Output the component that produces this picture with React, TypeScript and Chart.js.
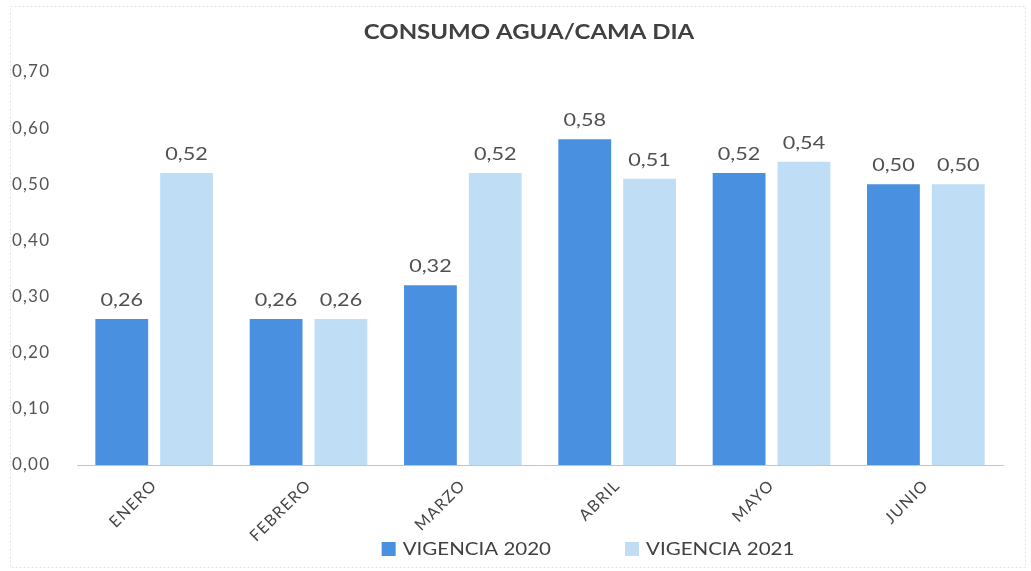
import { useEffect, useRef } from 'react';
import { Chart, registerables } from 'chart.js';

Chart.register(...registerables);

const titleText = 'CONSUMO AGUA/CAMA DIA';
const categories = ['ENERO', 'FEBRERO', 'MARZO', 'ABRIL', 'MAYO', 'JUNIO'];
const seriesNames = ['VIGENCIA 2020', 'VIGENCIA 2021'];
const vigencia2020 = [0.26, 0.26, 0.32, 0.58, 0.52, 0.5];
const vigencia2021 = [0.52, 0.26, 0.52, 0.51, 0.54, 0.5];
const seriesColors = ['#4a90e1', '#bfdef5'];
const yMin = 0;
const yMax = 0.7;
const yStep = 0.1;

const FONT = 'Lato, "Open Sans", sans-serif';
const STRETCH = 1.2;
const fmt = (v: number) => v.toFixed(2).replace('.', ',');

function drawStretched(ctx: any, text: string, x: number, y: number) {
  ctx.save();
  ctx.translate(x, y);
  ctx.scale(STRETCH, 1);
  ctx.fillText(text, 0, 0);
  ctx.restore();
}

const decorPlugin = {
  id: 'decor',
  beforeDraw(chart: any) {
    const { ctx, width, height } = chart;
    ctx.save();
    ctx.fillStyle = '#ffffff';
    ctx.fillRect(0, 0, width, height);
    ctx.strokeStyle = '#e2e2e2';
    ctx.setLineDash([2, 2]);
    ctx.lineWidth = 1;
    ctx.strokeRect(10.5, 6.5, width - 16, height - 10);
    ctx.restore();
    (ctx as any).letterSpacing = '1.2px';
  },
  afterDatasetsDraw(chart: any) {
    const { ctx } = chart;
    ctx.save();
    (ctx as any).letterSpacing = '0px';
    ctx.font = `18px ${FONT}`;
    ctx.fillStyle = '#505050';
    ctx.textAlign = 'center';
    ctx.textBaseline = 'alphabetic';
    chart.data.datasets.forEach((ds: any, di: number) => {
      const meta = chart.getDatasetMeta(di);
      meta.data.forEach((bar: any, i: number) => {
        drawStretched(ctx, fmt(ds.data[i]), bar.x, bar.y - 13);
      });
    });
    ctx.restore();
  },
  afterDraw(chart: any) {
    const { ctx } = chart;
    ctx.save();
    (ctx as any).letterSpacing = '0px';
    // title
    ctx.font = `bold 20px ${FONT}`;
    ctx.fillStyle = '#404040';
    ctx.textAlign = 'center';
    ctx.textBaseline = 'middle';
    drawStretched(ctx, titleText, 529, 33);
    // legend
    ctx.font = `18px ${FONT}`;
    ctx.textAlign = 'left';
    const gap = 74;
    const box = 14;
    const textGap = 7;
    const widths = seriesNames.map((n) => ctx.measureText(n).width * 1.14 + box + textGap);
    const total = widths.reduce((a, b) => a + b, 0) + gap * (widths.length - 1);
    let x = 588 - total / 2;
    const y = 549;
    seriesNames.forEach((n, i) => {
      ctx.fillStyle = seriesColors[i];
      ctx.fillRect(x, y - box / 2, box, box);
      ctx.fillStyle = '#404040';
      ctx.save();
      ctx.translate(x + box + textGap, y);
      ctx.scale(1.14, 1);
      ctx.fillText(n, 0, 0);
      ctx.restore();
      x += widths[i] + gap;
    });
    ctx.restore();
  },
};

export default function App() {
  const ref = useRef<HTMLCanvasElement | null>(null);
  useEffect(() => {
    document.body.style.margin = '0';
    const chart = new Chart(ref.current as HTMLCanvasElement, {
      type: 'bar',
      data: {
        labels: categories,
        datasets: [
          {
            label: seriesNames[0],
            data: vigencia2020,
            backgroundColor: seriesColors[0],
            categoryPercentage: 0.84,
            barPercentage: 0.815,
          },
          {
            label: seriesNames[1],
            data: vigencia2021,
            backgroundColor: seriesColors[1],
            categoryPercentage: 0.84,
            barPercentage: 0.815,
          },
        ],
      },
      options: {
        animation: false,
        responsive: false,
        layout: { padding: { top: 72, left: 12, right: 28, bottom: 0 } },
        plugins: {
          legend: { display: false },
          title: { display: false },
          tooltip: { enabled: false },
        },
        scales: {
          x: {
            grid: { display: false, drawTicks: false },
            border: { display: true, color: '#c4c4c4', width: 1 },
            ticks: {
              color: '#454545',
              font: { family: FONT, size: 16 },
              minRotation: 45,
              maxRotation: 45,
              padding: 11,
            },
            afterFit: (s: any) => {
              s.height = 106;
            },
          },
          y: {
            min: yMin,
            max: yMax,
            grid: { display: false, drawTicks: false },
            border: { display: false },
            ticks: {
              stepSize: yStep,
              color: '#555555',
              font: { family: FONT, size: 17 },
              crossAlign: 'far',
              padding: 0,
              callback: (v: any) => fmt(Number(v)),
            },
            afterFit: (s: any) => {
              s.width = 65;
            },
          },
        },
      },
      plugins: [decorPlugin],
    });
    return () => chart.destroy();
  }, []);
  return <canvas ref={ref} width={1031} height={571} style={{ display: 'block' }} />;
}
